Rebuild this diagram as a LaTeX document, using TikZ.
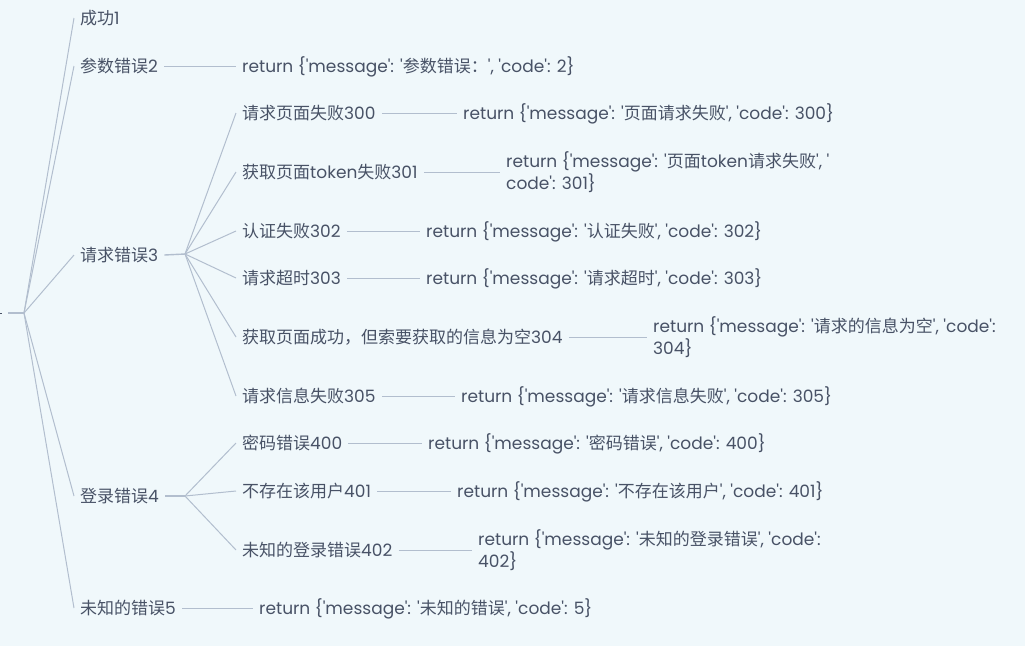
\documentclass[tikz,border=0pt]{standalone}
\usepackage{fontspec}
\setmainfont{Poppins}
\newfontfamily\cjk{Noto Sans CJK SC}
\definecolor{bgc}{RGB}{240,248,251}
\definecolor{linec}{RGB}{178,190,206}
\definecolor{txt}{RGB}{72,82,102}
\newcommand\qq{\textquotesingle}
\newcommand\zh[1]{{\cjk #1}}
\newcommand\ret[2]{return \{\qq message\qq: \qq\zh{#1}\qq, \qq code\qq: #2\}}
\begin{document}
\begin{tikzpicture}[x=1pt,y=-1pt,
  base/.style={anchor=west, inner xsep=6pt, inner ysep=0pt, text=txt, font=\fontsize{17}{22}\selectfont},
  lbl/.style={base, text height=14.9pt, text depth=2.1pt},
  ml/.style={base, align=left},
  edge/.style={draw=linec, line width=1pt},
  stub/.style={draw=linec, line width=1.4pt}]
\fill[bgc] (0,0) rectangle (1025,646);
\useasboundingbox (0,0) rectangle (1025,646);
% root
\coordinate (rootend) at (0,313);
\coordinate (roottip) at (2,313);
\draw[txt, line width=0.8pt] (rootend) -- (roottip);
\coordinate (root) at (8,313);
\coordinate (rf) at (24,313);
\draw[stub] (root) -- (rf);
% level 1
\node[lbl] (n1) at (74,18) {\zh{成功}1};
\node[lbl] (n2) at (74,66) {\zh{参数错误}2};
\node[lbl] (n3) at (74,255) {\zh{请求错误}3};
\node[lbl] (n4) at (74,496) {\zh{登录错误}4};
\node[lbl] (n5) at (74,608) {\zh{未知的错误}5};
\foreach \n in {n1,n2,n3,n4,n5} \draw[edge] (rf) -- (\n.west);
% returns of level 1
\node[lbl] (r2) at (236,66) {return \{\qq message\qq: \qq\zh{参数错误：}\qq, \qq code\qq: 2\}};
\draw[edge] (n2.east) -- (r2.west);
\node[lbl] (r5) at (253,608) {\ret{未知的错误}{5}};
\draw[edge] (n5.east) -- (r5.west);
% forks
\coordinate (f3) at (185,254);
\coordinate (f4) at (185,496);
\draw[stub] (n3.east) -- (f3);
\draw[stub] (n4.east) -- (f4);
% level 2 under 3
\node[lbl] (c300) at (236,113) {\zh{请求页面失败}300};
\node[lbl] (c301) at (236,172) {\zh{获取页面}token\zh{失败}301};
\node[lbl] (c302) at (236,231) {\zh{认证失败}302};
\node[lbl] (c303) at (236,278) {\zh{请求超时}303};
\node[lbl] (c304) at (236,337) {\zh{获取页面成功，但索要获取的信息为空}304};
\node[lbl] (c305) at (236,396) {\zh{请求信息失败}305};
\foreach \n in {c300,c301,c302,c303,c304,c305} \draw[edge] (f3) -- (\n.west);
% level 2 under 4
\node[lbl] (c400) at (236,443) {\zh{密码错误}400};
\node[lbl] (c401) at (236,491) {\zh{不存在该用户}401};
\node[lbl] (c402) at (236,550) {\zh{未知的登录错误}402};
\foreach \n in {c400,c401,c402} \draw[edge] (f4) -- (\n.west);
% returns level 2
\node[lbl] (r300) at (457,113) {\ret{页面请求失败}{300}};
\node[ml] (r301) at (500,172) {return \{\qq message\qq: \qq\zh{页面}token\zh{请求失败}\qq, \qq\\code\qq: 301\}};
\node[lbl] (r302) at (420,231) {\ret{认证失败}{302}};
\node[lbl] (r303) at (420,278) {\ret{请求超时}{303}};
\node[ml] (r304) at (647,337) {return \{\qq message\qq: \qq\zh{请求的信息为空}\qq, \qq code\qq:\\304\}};
\node[lbl] (r305) at (455,396) {\ret{请求信息失败}{305}};
\node[lbl] (r400) at (422,443) {\ret{密码错误}{400}};
\node[lbl] (r401) at (451,491) {\ret{不存在该用户}{401}};
\node[ml] (r402) at (472,550) {return \{\qq message\qq: \qq\zh{未知的登录错误}\qq, \qq code\qq:\\402\}};
\foreach \a/\b in {c300/r300,c301/r301,c302/r302,c303/r303,c304/r304,c305/r305,c400/r400,c401/r401,c402/r402}
  \draw[edge] (\a.east) -- (\b.west);
\end{tikzpicture}
\end{document}
